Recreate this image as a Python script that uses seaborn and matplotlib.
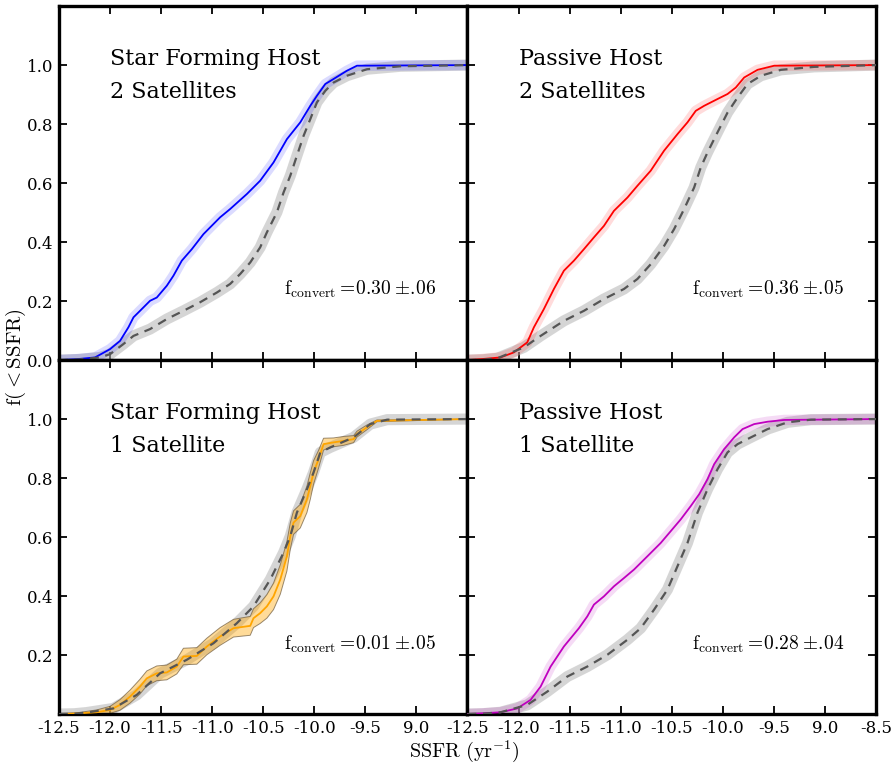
import matplotlib
matplotlib.use("Agg")
import matplotlib.pyplot as plt
import seaborn as sns
import pandas as pd
import numpy as np

# ---------------- data ----------------
# Top-left: Star Forming Host, 2 Satellites
SF2_X = [-12.5, -12.327, -12.147, -12.0, -11.902, -11.82, -11.77, -11.706, -11.608, -11.542, -11.444,
         -11.379, -11.297, -11.199, -11.085, -10.922, -10.824, -10.66, -10.53, -10.399, -10.268,
         -10.137, -10.039, -9.974, -9.892, -9.811, -9.68, -9.582, -8.5]
SF2_Y = [0.0, 0.003, 0.009, 0.037, 0.065, 0.111, 0.145, 0.167, 0.201, 0.212, 0.252,
         0.286, 0.337, 0.376, 0.427, 0.484, 0.512, 0.563, 0.608, 0.670, 0.749,
         0.806, 0.862, 0.896, 0.936, 0.953, 0.981, 0.998, 1.0]
SF2_REF_X = [-12.5, -12.3, -12.098, -12.0, -11.87, -11.77, -11.608, -11.444, -11.281, -11.118, -10.954,
             -10.824, -10.725, -10.627, -10.53, -10.464, -10.366, -10.301, -10.235, -10.17, -10.105,
             -10.039, -9.974, -9.892, -9.811, -9.68, -9.484, -9.157, -8.5]
SF2_REF_Y = [0.0, 0.002, 0.009, 0.02, 0.054, 0.082, 0.105, 0.139, 0.167, 0.196, 0.229,
             0.258, 0.292, 0.331, 0.382, 0.433, 0.501, 0.568, 0.625, 0.693, 0.760,
             0.817, 0.874, 0.913, 0.941, 0.964, 0.986, 0.996, 1.0]

# Top-right: Passive Host, 2 Satellites
P2_X = [-12.5, -12.373, -12.176, -12.046, -11.915, -11.85, -11.752, -11.654, -11.556, -11.458, -11.36,
        -11.262, -11.164, -11.066, -10.934, -10.836, -10.706, -10.575, -10.444, -10.346, -10.265,
        -10.183, -10.052, -9.954, -9.873, -9.791, -9.66, -9.497, -8.5]
P2_Y = [0.0, 0.003, 0.009, 0.026, 0.06, 0.111, 0.173, 0.241, 0.303, 0.337, 0.376,
        0.416, 0.455, 0.506, 0.551, 0.591, 0.642, 0.710, 0.766, 0.806, 0.845,
        0.862, 0.885, 0.902, 0.924, 0.958, 0.984, 0.998, 1.0]
P2_REF_X = [-12.5, -12.35, -12.209, -11.948, -11.784, -11.556, -11.36, -11.164, -10.968, -10.836, -10.706,
            -10.575, -10.477, -10.379, -10.281, -10.216, -10.15, -10.052, -9.954, -9.856, -9.758,
            -9.627, -9.431, -9.105, -8.5]
P2_REF_Y = [0.0, 0.001, 0.006, 0.043, 0.082, 0.133, 0.167, 0.207, 0.241, 0.275, 0.325,
            0.387, 0.444, 0.512, 0.585, 0.653, 0.704, 0.772, 0.839, 0.890, 0.936,
            0.964, 0.984, 0.994, 1.0]

# Bottom-left: Star Forming Host, 1 Satellite
SF1_X = [-12.5, -12.327, -12.13, -12.0, -11.902, -11.804, -11.706, -11.64, -11.542, -11.444, -11.346,
         -11.281, -11.15, -11.052, -10.922, -10.791, -10.627, -10.595, -10.53, -10.464, -10.399,
         -10.333, -10.268, -10.235, -10.203, -10.137, -10.072, -10.039, -10.007, -9.958, -9.909,
         -9.811, -9.713, -9.615, -9.582, -9.484, -9.386, -8.5]
SF1_Y = [0.0, 0.002, 0.006, 0.014, 0.031, 0.059, 0.093, 0.121, 0.138, 0.141, 0.161,
         0.195, 0.197, 0.229, 0.263, 0.291, 0.299, 0.325, 0.342, 0.365, 0.399,
         0.456, 0.535, 0.603, 0.649, 0.671, 0.728, 0.773, 0.819, 0.864, 0.915,
         0.921, 0.926, 0.932, 0.949, 0.972, 0.994, 1.0]
SF1_ERR = [0.0, 0.002, 0.008, 0.012, 0.018, 0.022, 0.025, 0.025, 0.025, 0.025, 0.025,
           0.028, 0.028, 0.028, 0.030, 0.030, 0.032, 0.032, 0.035, 0.040, 0.045,
           0.050, 0.050, 0.045, 0.040, 0.040, 0.045, 0.045, 0.040, 0.030, 0.020,
           0.015, 0.015, 0.012, 0.010, 0.008, 0.003, 0.0]
SF1_REF_X = [-12.5, -12.35, -12.229, -11.967, -11.738, -11.51, -11.248, -10.987, -10.758, -10.595, -10.431,
             -10.301, -10.235, -10.17, -10.072, -10.007, -9.941, -9.843, -9.615, -9.451, -9.287, -8.5]
SF1_REF_Y = [0.0, 0.001, 0.005, 0.019, 0.065, 0.138, 0.184, 0.240, 0.308, 0.365, 0.456,
             0.547, 0.603, 0.683, 0.762, 0.819, 0.887, 0.904, 0.938, 0.983, 0.998, 1.0]

# Bottom-right: Passive Host, 1 Satellite
P1_X = [-12.5, -12.373, -12.176, -12.013, -11.882, -11.784, -11.686, -11.556, -11.409, -11.327, -11.262,
        -11.164, -11.066, -10.968, -10.869, -10.738, -10.608, -10.51, -10.412, -10.314, -10.232,
        -10.15, -10.085, -9.987, -9.889, -9.807, -9.693, -9.562, -9.399, -8.5]
P1_Y = [0.0, 0.002, 0.006, 0.019, 0.048, 0.093, 0.161, 0.229, 0.291, 0.331, 0.371,
        0.399, 0.433, 0.461, 0.490, 0.535, 0.580, 0.620, 0.660, 0.705, 0.745,
        0.796, 0.847, 0.898, 0.938, 0.966, 0.983, 0.991, 0.997, 1.0]
P1_REF_X = [-12.5, -12.35, -12.176, -11.915, -11.719, -11.523, -11.327, -11.13, -10.934, -10.804, -10.673,
            -10.542, -10.444, -10.346, -10.248, -10.15, -10.052, -9.954, -9.856, -9.725, -9.562,
            -9.366, -9.137, -8.5]
P1_REF_Y = [0.0, 0.001, 0.006, 0.031, 0.076, 0.127, 0.161, 0.201, 0.252, 0.291, 0.354,
            0.422, 0.501, 0.580, 0.683, 0.762, 0.830, 0.887, 0.915, 0.938, 0.966,
            0.989, 0.998, 1.0]

TITLES = ["Star Forming Host\n2 Satellites", "Passive Host\n2 Satellites",
          "Star Forming Host\n1 Satellite", "Passive Host\n1 Satellite"]
FCONV_VALUES = ["0.30", "0.36", "0.01", "0.28"]
FCONV_ERRORS = ["06", "05", "05", "04"]
COLORS = ["#0000ff", "#ff0000", "#ffa500", "#bf00bf"]

X_TICKS = [-12.5, -12.0, -11.5, -11.0, -10.5, -10.0, -9.5, -9.0, -8.5]
X_LABELS_LEFT = ["-12.5", "-12.0", "-11.5", "-11.0", "-10.5", "-10.0", "-9.5", "9.0", ""]
X_LABELS_RIGHT = ["-12.5", "-12.0", "-11.5", "-11.0", "-10.5", "-10.0", "-9.5", "9.0", "-8.5"]
Y_TICKS = [0.0, 0.2, 0.4, 0.6, 0.8, 1.0]
Y_LABELS_TOP = ["0.0", "0.2", "0.4", "0.6", "0.8", "1.0"]
Y_LABELS_BOTTOM = ["", "0.2", "0.4", "0.6", "0.8", "1.0"]

# ---------------- style ----------------
sns.set_style("ticks")
plt.rcParams["font.family"] = ["DejaVu Serif"]
plt.rcParams["mathtext.fontset"] = "cm"
plt.rcParams["text.color"] = "black"
plt.rcParams["xtick.color"] = "black"
plt.rcParams["ytick.color"] = "black"
plt.rcParams["axes.labelcolor"] = "black"

fig, axes = plt.subplots(2, 2, figsize=(8.93, 7.64), dpi=100, sharex=False, sharey=False,
                         gridspec_kw=dict(hspace=0, wspace=0))
fig.subplots_adjust(left=0.066, right=0.981, top=0.992, bottom=0.0654)

panels = [
    (SF2_X, SF2_Y, SF2_REF_X, SF2_REF_Y, None),
    (P2_X, P2_Y, P2_REF_X, P2_REF_Y, None),
    (SF1_X, SF1_Y, SF1_REF_X, SF1_REF_Y, SF1_ERR),
    (P1_X, P1_Y, P1_REF_X, P1_REF_Y, None),
]

for i, (ax, (x, y, rx, ry, err)) in enumerate(zip(axes.flat, panels)):
    col = COLORS[i]
    df = pd.DataFrame({"x": x, "y": y})
    rdf = pd.DataFrame({"x": rx, "y": ry})
    # reference band (thick translucent line) + dashed reference
    sns.lineplot(data=rdf, x="x", y="y", ax=ax, color="#b4b4b4", alpha=0.55, lw=8,
                 sort=False, estimator=None, zorder=1, solid_capstyle="butt")
    if err is None:
        sns.lineplot(data=df, x="x", y="y", ax=ax, color=col, alpha=0.14, lw=7.5,
                     sort=False, estimator=None, zorder=2, solid_capstyle="butt")
    else:
        lo = np.array(y) - np.array(err)
        hi = np.array(y) + np.array(err)
        ax.fill_between(x, lo, hi, facecolor=col, alpha=0.4, edgecolor="none", zorder=2)
        ax.plot(x, lo, color="#6e5a3c", lw=0.7, alpha=0.7, zorder=2)
        ax.plot(x, hi, color="#6e5a3c", lw=0.7, alpha=0.7, zorder=2)
    sns.lineplot(data=rdf, x="x", y="y", ax=ax, color="#555555", lw=1.6, linestyle=(0, (4, 3)),
                 sort=False, estimator=None, zorder=4)
    sns.lineplot(data=df, x="x", y="y", ax=ax, color=col, lw=1.3,
                 sort=False, estimator=None, zorder=3)

    ax.set_xlim(-12.5, -8.5)
    ax.set_ylim(0, 1.2)
    ax.set_xlabel("")
    ax.set_ylabel("")
    ax.set_xticks(X_TICKS)
    ax.set_yticks(Y_TICKS)
    row, colidx = divmod(i, 2)
    if row == 1:
        ax.set_xticklabels(X_LABELS_LEFT if colidx == 0 else X_LABELS_RIGHT, fontsize=12)
    else:
        ax.set_xticklabels([])
    if colidx == 0:
        ax.set_yticklabels(Y_LABELS_TOP if row == 0 else Y_LABELS_BOTTOM, fontsize=12)
    else:
        ax.set_yticklabels([])
    ax.tick_params(direction="in", top=True, right=True, length=6, width=1.3)
    ax.tick_params(axis="y", pad=4)
    ax.tick_params(axis="x", pad=4)
    for sp in ax.spines.values():
        sp.set_linewidth(2.4)
        sp.set_color("black")

    ax.text(-12.0, 1.02, TITLES[i].split("\n")[0], fontsize=16, va="center", ha="left")
    ax.text(-12.0, 0.908, TITLES[i].split("\n")[1], fontsize=16, va="center", ha="left")
    label = (r"$\mathrm{f_{convert}}=\!" + FCONV_VALUES[i] + r"\;{\pm}.\!" + FCONV_ERRORS[i] + "$")
    ax.text(-10.3, 0.24 if row == 0 else 0.235, label, fontsize=14, va="center", ha="left")

fig.text(0.52, 0.0, r"$\mathrm{SSFR\ (yr^{-1})}$", ha="center", va="bottom", fontsize=14.5)
fig.text(0.018, 0.533, r"$\mathrm{f({<}SSFR)}$", ha="center", va="center", rotation=90, fontsize=15)

fig.savefig("out.png", dpi=100)
